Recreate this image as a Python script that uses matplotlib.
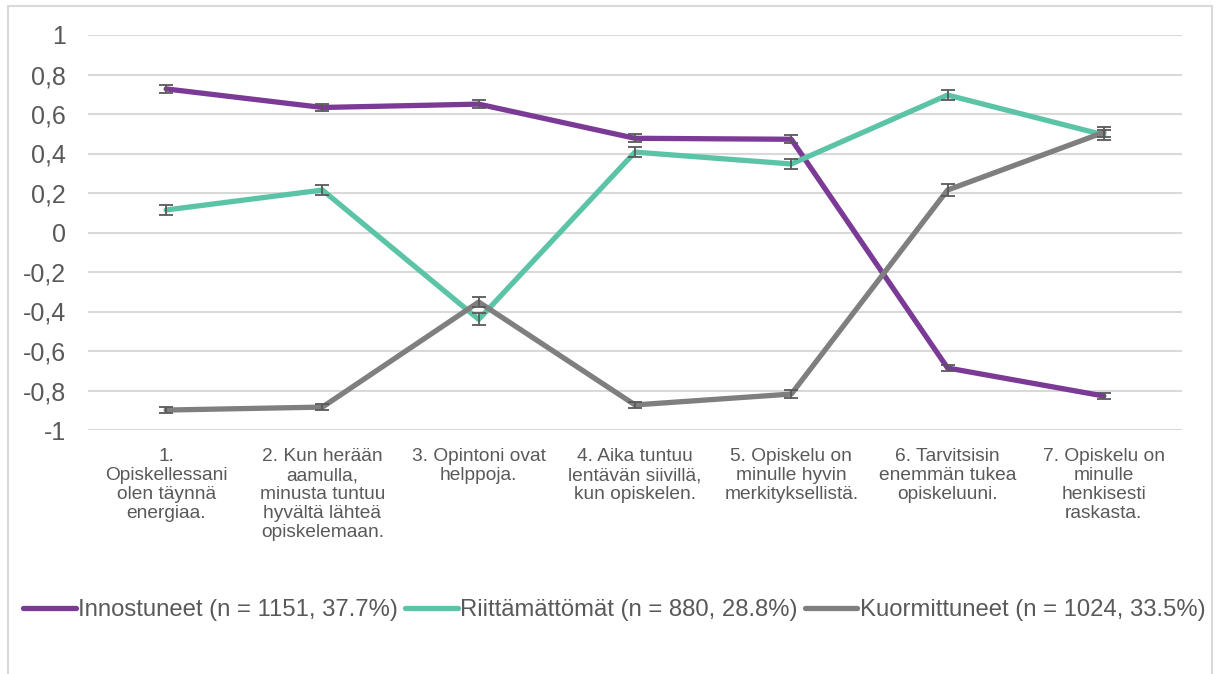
import matplotlib
matplotlib.use("Agg")
import matplotlib.pyplot as plt
from matplotlib.patches import Rectangle
from matplotlib.ticker import FuncFormatter

plt.rcParams["font.family"] = ["Liberation Sans", "DejaVu Sans"]

categories = [
    "1.\nOpiskellessani\nolen täynnä\nenergiaa.",
    "2. Kun herään\naamulla,\nminusta tuntuu\nhyvältä lähteä\nopiskelemaan.",
    "3. Opintoni ovat\nhelppoja.",
    "4. Aika tuntuu\nlentävän siivillä,\nkun opiskelen.",
    "5. Opiskelu on\nminulle hyvin\nmerkityksellistä.",
    "6. Tarvitsisin\nenemmän tukea\nopiskeluuni.",
    "7. Opiskelu on\nminulle\nhenkisesti\nraskasta.",
]

innostuneet = [0.727, 0.633, 0.650, 0.477, 0.472, -0.686, -0.828]
riittamattomat = [0.114, 0.215, -0.440, 0.407, 0.347, 0.696, 0.494]
kuormittuneet = [-0.899, -0.884, -0.352, -0.873, -0.818, 0.215, 0.507]

err_innostuneet = [0.02, 0.02, 0.02, 0.02, 0.02, 0.015, 0.015]
err_riittamattomat = [0.025, 0.025, 0.03, 0.025, 0.025, 0.025, 0.025]
err_kuormittuneet = [0.015, 0.015, 0.025, 0.015, 0.02, 0.03, 0.025]

labels = [
    "Innostuneet (n = 1151, 37.7%)",
    "Riittämättömät (n = 880, 28.8%)",
    "Kuormittuneet (n = 1024, 33.5%)",
]
colors = ["#7B3A96", "#5CC4A6", "#7F7F7F"]

fig = plt.figure(figsize=(12.16, 6.74), dpi=100)
fig.patches.append(Rectangle((8 / 1216, -0.05), 1204 / 1216, 1.05 - 6 / 674,
                             transform=fig.transFigure, fill=False,
                             edgecolor="#D9D9D9", linewidth=1.5))

ax = fig.add_axes([88 / 1216, 1 - 430 / 674, 1094 / 1216, 395 / 674])
x = list(range(len(categories)))

series = [innostuneet, riittamattomat, kuormittuneet]
errors = [err_innostuneet, err_riittamattomat, err_kuormittuneet]
for vals, errs, col, lab in zip(series, errors, colors, labels):
    ax.plot(x, vals, color=col, linewidth=3.8, label=lab, zorder=3,
            solid_capstyle="round")
    ax.errorbar(x, vals, yerr=errs, fmt="none", ecolor="#595959",
                elinewidth=1.3, capsize=5, capthick=1.3, zorder=4)

ax.set_xlim(-0.5, 6.5)
ax.set_ylim(-1, 1)
ax.set_yticks([i / 10 for i in range(-10, 11, 2)])
ax.yaxis.set_major_formatter(FuncFormatter(
    lambda v, p: ("%g" % round(v, 1)).replace(".", ",")))
ax.set_xticks(x)
ax.set_xticklabels(categories, fontsize=13.8, color="#595959", linespacing=1.15)
ax.tick_params(axis="y", labelsize=18, colors="#595959", length=0, pad=16)
ax.tick_params(axis="x", length=0, pad=13)
ax.grid(axis="y", color="#D9D9D9", linewidth=1.5)
ax.set_axisbelow(True)
for s in ax.spines.values():
    s.set_visible(False)

leg = fig.legend(loc="center", bbox_to_anchor=(0.505, 1 - 610 / 674), ncol=3,
                 frameon=False, fontsize=17.2, handlelength=2.2,
                 handletextpad=0.1, columnspacing=0.3, labelcolor="#595959")
for h in leg.get_lines():
    h.set_linewidth(3.8)
    h.set_solid_capstyle("round")

fig.savefig("out.png", dpi=100)
